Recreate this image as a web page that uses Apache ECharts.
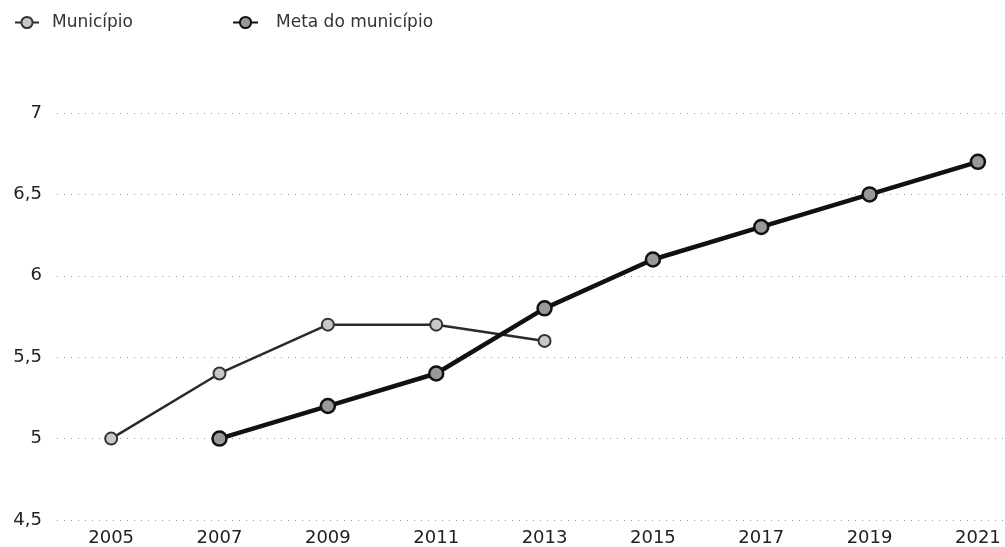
<!DOCTYPE html>
<html>
<head>
<meta charset="utf-8">
<script src="https://cdn.jsdelivr.net/npm/echarts@6/dist/echarts.min.js"></script>
<style>html,body{margin:0;padding:0;background:#fff}#c{width:1005px;height:547px}</style>
</head>
<body>
<div id="c"></div>
<script>
var years = [2005, 2007, 2009, 2011, 2013, 2015, 2017, 2019, 2021];
var municipio = [5.0, 5.4, 5.7, 5.7, 5.6, null, null, null, null];
var meta = [null, 5.0, 5.2, 5.4, 5.8, 6.1, 6.3, 6.5, 6.7];
var yTicks = [4.5, 5, 5.5, 6, 6.5, 7];
var seriesNames = ['Município', 'Meta do município'];

function pairs(vals) {
  var out = [];
  for (var i = 0; i < years.length; i++) {
    if (vals[i] !== null) out.push([years[i], vals[i]]);
  }
  return out;
}

var chart = echarts.init(document.getElementById('c'), null, {renderer: 'canvas'});
var font = 'DejaVu Sans';
chart.setOption({
  animation: false,
  backgroundColor: '#fff',
  legend: [
    {data: [seriesNames[0]], left: 9, top: 9, itemWidth: 24, itemHeight: 14,
     textStyle: {fontFamily: font, fontSize: 17, color: '#333', padding: [0, 0, 0, 8]}},
    {data: [seriesNames[1]], left: 227, top: 9, itemWidth: 25, itemHeight: 14,
     textStyle: {fontFamily: font, fontSize: 17, color: '#333', padding: [0, 0, 0, 13]}}
  ],
  grid: {left: 57, right: 0, top: 113, bottom: 27, containLabel: false},
  xAxis: {
    type: 'value', min: 2004, max: 2021.5, interval: 1,
    axisLine: {show: false}, axisTick: {show: false},
    axisLabel: {fontFamily: font, fontSize: 18, color: '#222', margin: 9,
      showMinLabel: true, showMaxLabel: false,
      formatter: function (v) { return years.indexOf(v) >= 0 ? String(v) : ''; }},
    splitLine: {show: false}
  },
  yAxis: {
    type: 'value', min: yTicks[0], max: yTicks[yTicks.length - 1], interval: 0.5,
    axisLine: {show: false}, axisTick: {show: false},
    axisLabel: {fontFamily: font, fontSize: 18, color: '#222', margin: 15,
      formatter: function (v) { return String(v).replace('.', ','); }},
    splitLine: {show: true, lineStyle: {type: [1, 6], color: '#999', width: 1}}
  },
  series: [
    {name: seriesNames[0], type: 'line', data: pairs(municipio),
     symbol: 'circle', symbolSize: 12,
     lineStyle: {color: '#2a2a2a', width: 2.5},
     itemStyle: {color: '#c8c8c8', borderColor: '#333', borderWidth: 2}},
    {name: seriesNames[1], type: 'line', data: pairs(meta),
     symbol: 'circle', symbolSize: 14,
     lineStyle: {color: '#111', width: 4.5},
     itemStyle: {color: '#999', borderColor: '#111', borderWidth: 2.5}}
  ]
});
</script>
</body>
</html>
